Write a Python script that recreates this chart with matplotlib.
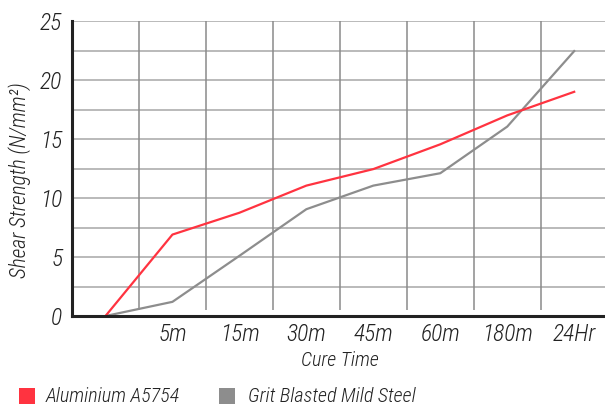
import matplotlib
matplotlib.use("Agg")
import matplotlib.pyplot as plt
from matplotlib.patches import Rectangle

categories = ["", "5m", "15m", "30m", "45m", "60m", "180m", "24Hr"]
aluminium = [0, 6.9, 8.75, 11.05, 12.45, 14.55, 17.0, 19.0]
steel = [0, 1.2, 5.1, 9.05, 11.05, 12.1, 16.05, 22.45]
y_ticks = [0, 5, 10, 15, 20, 25]

FONT = ["Roboto Condensed", "DejaVu Sans"]
RED = "#ff3340"
GRAY = "#8d8d8d"
TXT = dict(family=FONT, style="italic", weight="light", color="#222222")

fig = plt.figure(figsize=(6.05, 4.08), dpi=100)
ax = fig.add_axes([72/605, 1-316/408, 1-72/605, (316-21)/408])

x = list(range(len(categories)))
ax.set_xlim(-0.5, 7.46)
ax.set_ylim(0, 25)

# grid
for yv in [2.5*i for i in range(1, 11)]:
    ax.axhline(yv, color="#b4b4b4", lw=1.3, zorder=1)
ax.vlines([i + 0.5 for i in range(7)], 0.5, 25, color="#8a8a8a", lw=1.1, zorder=1)

ax.plot(x, steel, color=GRAY, lw=1.6, zorder=3)
ax.plot(x, aluminium, color=RED, lw=1.6, zorder=4)

for s in ["top", "right"]:
    ax.spines[s].set_visible(False)
for s in ["left", "bottom"]:
    ax.spines[s].set_linewidth(2.2)
    ax.spines[s].set_color("#222222")
    ax.spines[s].set_zorder(5)

ax.set_yticks(y_ticks)
ax.set_yticklabels([str(v) for v in y_ticks], fontsize=17, **TXT)
ax.set_xticks(x[1:])
ax.set_xticklabels(categories[1:], fontsize=17, **TXT)
ax.tick_params(axis="both", length=0)
ax.tick_params(axis="y", pad=7)
ax.tick_params(axis="x", pad=5)

fig.text(20/605, 1-180/408, "Shear Strength (N/mm²)", rotation=90, ha="center", va="center",
         fontsize=15.5, **TXT)
fig.text(340/605, 1-360/408, "Cure Time", ha="center", va="center",
         fontsize=14.5, **TXT)

# legend
fig.patches.append(Rectangle((19/605, 1-404/408), 16/605, 16/408, transform=fig.transFigure,
                             facecolor=RED, edgecolor="none"))
fig.text(46/605, 1-396/408, "Aluminium A5754", ha="left", va="center",
         fontsize=14.5, **TXT)
fig.patches.append(Rectangle((219/605, 1-404/408), 16/605, 16/408, transform=fig.transFigure,
                             facecolor=GRAY, edgecolor="none"))
fig.text(248/605, 1-396/408, "Grit Blasted Mild Steel", ha="left", va="center",
         fontsize=14.5, **TXT)

fig.savefig("out.png", dpi=100)
